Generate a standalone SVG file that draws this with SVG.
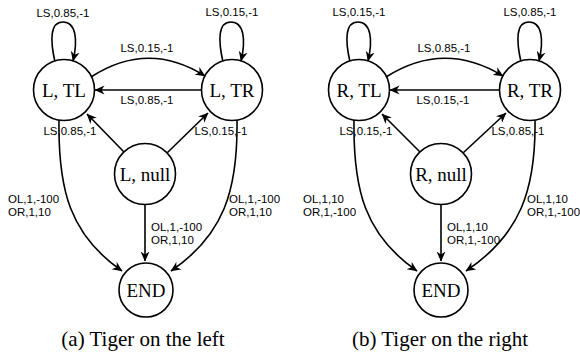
<svg xmlns="http://www.w3.org/2000/svg" width="580" height="352" viewBox="0 0 580 352">
<defs>
<marker id="arr" viewBox="0 0 10 10" refX="9.5" refY="5" markerWidth="10" markerHeight="10" markerUnits="userSpaceOnUse" orient="auto">
<path d="M0,0.5 L10,5 L0,9.5 L3,5 z" fill="#000"/>
</marker>
<style>
.node circle{fill:#fff;stroke:#000;stroke-width:1.6}
.node text{font-family:"Liberation Serif","Times New Roman",serif;font-size:19px;text-anchor:middle;fill:#000}
.edge{fill:none;stroke:#000;stroke-width:1.6;marker-end:url(#arr)}
.lbl{font-family:"Liberation Sans",Arial,sans-serif;font-size:11.5px;fill:#000}
.c{text-anchor:middle}
.cap{font-family:"Liberation Serif","Times New Roman",serif;font-size:21px;text-anchor:middle;fill:#000}
</style>
</defs>
<rect width="580" height="352" fill="#fff"/>

<g id="connectors">
<!-- left diagram -->
<path class="edge" d="M55,62 C50,40 50,22 63,22 C76,22 78,40 73,61"/>
<path class="edge" d="M223,62 C218,40 218,22 231,22 C244,22 246,40 241,61"/>
<path class="edge" d="M91,77 Q148,40 205,76"/>
<path class="edge" d="M201,90 L95,90"/>
<path class="edge" d="M124,152 L87,114"/>
<path class="edge" d="M167,153 L208,113"/>
<path class="edge" d="M59,120 C58,190 70,235 122,271"/>
<path class="edge" d="M237,120 C238,190 224,235 171,271"/>
<path class="edge" d="M145,205 L145,261"/>
<!-- right diagram -->
<path class="edge" d="M350,62 C345,40 345,22 358,22 C371,22 373,40 368,61"/>
<path class="edge" d="M521,62 C516,40 516,22 529,22 C542,22 544,40 539,61"/>
<path class="edge" d="M386,77 Q444,40 503,76"/>
<path class="edge" d="M499,90 L390,90"/>
<path class="edge" d="M420,152 L382,114"/>
<path class="edge" d="M463,153 L506,113"/>
<path class="edge" d="M354,120 C353,190 365,235 417,271"/>
<path class="edge" d="M535,120 C536,190 520,235 466,271"/>
<path class="edge" d="M441,205 L441,261"/>
</g>

<g id="edge-labels">
<text class="lbl c" x="63" y="17">LS,0.85,-1</text>
<text class="lbl c" x="232" y="16">LS,0.15,-1</text>
<text class="lbl c" x="147" y="52">LS,0.15,-1</text>
<text class="lbl c" x="147" y="104">LS,0.85,-1</text>
<text class="lbl c" x="70" y="135">LS,0.85,-1</text>
<text class="lbl c" x="221" y="135">LS,0.15,-1</text>
<text class="lbl" x="8" y="203">OL,1,-100</text>
<text class="lbl" x="8" y="216">OR,1,10</text>
<text class="lbl" x="229" y="203">OL,1,-100</text>
<text class="lbl" x="229" y="216">OR,1,10</text>
<text class="lbl" x="151" y="231">OL,1,-100</text>
<text class="lbl" x="151" y="244">OR,1,10</text>

<text class="lbl c" x="359" y="16">LS,0.15,-1</text>
<text class="lbl c" x="530" y="16">LS,0.85,-1</text>
<text class="lbl c" x="444" y="52">LS,0.85,-1</text>
<text class="lbl c" x="443" y="104">LS,0.15,-1</text>
<text class="lbl c" x="366" y="135">LS,0.15,-1</text>
<text class="lbl c" x="518" y="135">LS,0.85,-1</text>
<text class="lbl" x="303" y="203">OL,1,10</text>
<text class="lbl" x="303" y="216">OR,1,-100</text>
<text class="lbl" x="527" y="203">OL,1,10</text>
<text class="lbl" x="527" y="216">OR,1,-100</text>
<text class="lbl" x="447" y="231">OL,1,10</text>
<text class="lbl" x="447" y="244">OR,1,-100</text>
</g>

<g id="L_TL" class="node"><circle cx="64" cy="90" r="30.5"/><text x="64" y="97">L, TL</text></g>
<g id="L_TR" class="node"><circle cx="232" cy="90" r="30.5"/><text x="232" y="97">L, TR</text></g>
<g id="L_null" class="node"><circle cx="145" cy="174" r="30.5"/><text x="145" y="181">L, null</text></g>
<g id="L_END" class="node"><circle cx="146" cy="290" r="27"/><text x="146" y="297">END</text></g>

<g id="R_TL" class="node"><circle cx="359" cy="90" r="30.5"/><text x="359" y="97">R, TL</text></g>
<g id="R_TR" class="node"><circle cx="530" cy="90" r="30.5"/><text x="530" y="97">R, TR</text></g>
<g id="R_null" class="node"><circle cx="441" cy="174" r="30.5"/><text x="441" y="181">R, null</text></g>
<g id="R_END" class="node"><circle cx="441" cy="290" r="27"/><text x="441" y="297">END</text></g>

<g id="captions">
<text class="cap" x="143" y="346">(a) Tiger on the left</text>
<text class="cap" x="440" y="346">(b) Tiger on the right</text>
</g>
</svg>
